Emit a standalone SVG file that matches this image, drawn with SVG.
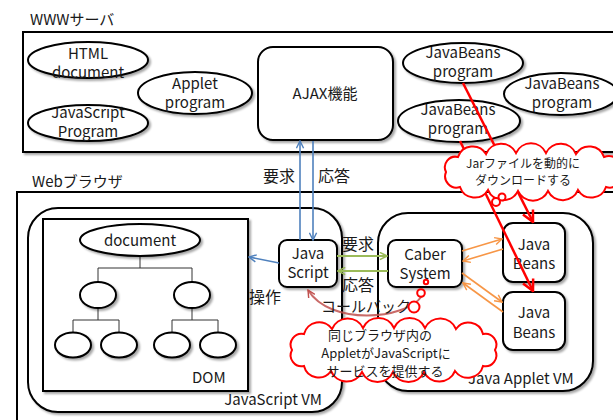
<svg xmlns="http://www.w3.org/2000/svg" width="613" height="420" viewBox="0 0 613 420">
<defs>
<filter id="sh" x="-10%" y="-10%" width="130%" height="130%">
<feDropShadow dx="2" dy="2" stdDeviation="1.2" flood-color="#000" flood-opacity="0.35"/>
</filter>
<marker id="ab" viewBox="0 0 10 10" refX="9" refY="5" markerWidth="9" markerHeight="9" markerUnits="userSpaceOnUse" orient="auto"><path d="M1,1 L9,5 L1,9" fill="none" stroke="#4F81BD" stroke-width="1.6"/></marker>
<marker id="ag" viewBox="0 0 10 10" refX="9" refY="5" markerWidth="9" markerHeight="9" markerUnits="userSpaceOnUse" orient="auto"><path d="M1,1 L9,5 L1,9" fill="none" stroke="#9BBB59" stroke-width="1.8"/></marker>
<marker id="ao" viewBox="0 0 10 10" refX="9" refY="5" markerWidth="9" markerHeight="9" markerUnits="userSpaceOnUse" orient="auto"><path d="M1,1 L9,5 L1,9" fill="none" stroke="#F79646" stroke-width="1.6"/></marker>
<marker id="ar" viewBox="0 0 10 10" refX="9" refY="5" markerWidth="14" markerHeight="14" markerUnits="userSpaceOnUse" orient="auto"><path d="M1,1 L9,5 L1,9" fill="none" stroke="#FF0000" stroke-width="1.8"/></marker>
<marker id="ad" viewBox="0 0 10 10" refX="9" refY="5" markerWidth="9" markerHeight="9" markerUnits="userSpaceOnUse" orient="auto"><path d="M1,1 L9,5 L1,9" fill="none" stroke="#C0504D" stroke-width="1.6"/></marker>
</defs>
<style>
text{font-family:"Noto Sans CJK JP","Noto Sans",sans-serif;fill:#1a1a1a;font-size:15px}
.c{text-anchor:middle}
.lb{font-size:16px}
.box{fill:#fff;stroke:#000;stroke-width:2}
.shp{fill:#fff;stroke:#000;stroke-width:2;filter:url(#sh)}
.tree{fill:none;stroke:#333;stroke-width:1}
.cloud{fill:#fff;stroke:#FF0000;stroke-width:2}
.bub{fill:#fff;stroke:#FF0000;stroke-width:2}
.sm{font-size:12px}
.md{font-size:13px}
</style>

<g id="www-server">
<rect class="box" x="23" y="32" width="610" height="120" filter="url(#sh)"/>
<text x="30" y="25" font-size="16">WWWサーバ</text>
</g>
<g id="html-document">
<ellipse class="shp" cx="88" cy="60" rx="60" ry="18"/>
<text class="c" x="88" y="59">HTML</text>
<text class="c" x="88" y="78">document</text>
</g>
<g id="javascript-program">
<ellipse class="shp" cx="88" cy="123" rx="60" ry="18"/>
<text class="c" x="88" y="118">JavaScript</text>
<text class="c" x="88" y="137">Program</text>
</g>
<g id="applet-program">
<ellipse class="shp" cx="195" cy="93" rx="57" ry="21"/>
<text class="c" x="195" y="89">Applet</text>
<text class="c" x="195" y="108">program</text>
</g>
<g id="ajax">
<rect class="shp" x="258" y="47" width="135" height="93" rx="15"/>
<text class="c" x="325" y="99">AJAX機能</text>
</g>
<g id="javabeans-program-1">
<ellipse class="shp" cx="463" cy="63" rx="60" ry="20"/>
<text class="c" x="463" y="58">JavaBeans</text>
<text class="c" x="463" y="77">program</text>
</g>
<g id="javabeans-program-2">
<ellipse class="shp" cx="561" cy="94" rx="57" ry="21"/>
<text class="c" x="562" y="89">JavaBeans</text>
<text class="c" x="562" y="108">program</text>
</g>
<g id="javabeans-program-3">
<ellipse class="shp" cx="459" cy="121" rx="61" ry="21"/>
<text class="c" x="458" y="115">JavaBeans</text>
<text class="c" x="458" y="134">program</text>
</g>

<g id="web-browser">
<rect class="box" x="17" y="192" width="620" height="240" filter="url(#sh)"/>
<text x="32" y="187" font-size="15.5">Webブラウザ</text>
</g>
<g id="javascript-vm">
<rect class="shp" x="28" y="208" width="314" height="204" rx="30"/>
<text x="322" y="405" text-anchor="end">JavaScript VM</text>
</g>
<g id="dom">
<rect class="shp" x="43" y="219" width="205" height="172"/>
<path class="tree" d="M140,256 V268 M98,268 H192 M98,268 V282 M192,268 V282 M98,308 V320 M73,320 H119 M73,320 V333 M119,320 V333 M192,308 V320 M172,320 H218 M172,320 V333 M218,320 V333"/>
<ellipse class="shp" cx="140" cy="240" rx="60" ry="16"/>
<text class="c" x="140" y="246">document</text>
<ellipse class="shp" cx="98" cy="295" rx="18" ry="13"/>
<ellipse class="shp" cx="192" cy="295" rx="18" ry="13"/>
<ellipse class="shp" cx="73" cy="345" rx="18" ry="12.5"/>
<ellipse class="shp" cx="119" cy="345" rx="18" ry="12.5"/>
<ellipse class="shp" cx="172" cy="345" rx="18" ry="12.5"/>
<ellipse class="shp" cx="218" cy="345" rx="18" ry="12.5"/>
<text x="192" y="383">DOM</text>
</g>
<g id="java-applet-vm">
<rect class="shp" x="378" y="213" width="215" height="178" rx="30"/>
<text x="468" y="384">Java Applet VM</text>
</g>
<g id="java-script">
<rect class="shp" x="279" y="240" width="58" height="47" rx="8"/>
<text class="c" x="308" y="259">Java</text>
<text class="c" x="308" y="278">Script</text>
</g>
<g id="caber-system">
<rect class="shp" x="388" y="240" width="74" height="47" rx="8"/>
<text class="c" x="425" y="260">Caber</text>
<text class="c" x="425" y="279">System</text>
</g>
<g id="java-beans-1">
<rect class="shp" x="503" y="223" width="62" height="59" rx="10"/>
<text class="c" x="534" y="250">Java</text>
<text class="c" x="534" y="269">Beans</text>
</g>
<g id="java-beans-2">
<rect class="shp" x="503" y="292" width="62" height="58" rx="10"/>
<text class="c" x="534" y="318">Java</text>
<text class="c" x="534" y="338">Beans</text>
</g>

<g id="connectors">
<line x1="300" y1="240" x2="300" y2="141" stroke="#4F81BD" stroke-width="1.6" marker-end="url(#ab)"/>
<line x1="313" y1="141" x2="313" y2="240" stroke="#4F81BD" stroke-width="1.6" marker-end="url(#ab)"/>
<line x1="279" y1="263" x2="249" y2="257" stroke="#4F81BD" stroke-width="1.6" marker-end="url(#ab)"/>
<line x1="337" y1="256" x2="387" y2="256" stroke="#9BBB59" stroke-width="2" marker-end="url(#ag)"/>
<line x1="388" y1="271" x2="338" y2="271" stroke="#9BBB59" stroke-width="2" marker-end="url(#ag)"/>
<line x1="462" y1="251" x2="502" y2="239" stroke="#F79646" stroke-width="1.6" marker-end="url(#ao)"/>
<line x1="503" y1="249" x2="463" y2="261" stroke="#F79646" stroke-width="1.6" marker-end="url(#ao)"/>
<line x1="462" y1="273" x2="502" y2="302" stroke="#F79646" stroke-width="1.6" marker-end="url(#ao)"/>
<line x1="503" y1="312" x2="463" y2="283" stroke="#F79646" stroke-width="1.6" marker-end="url(#ao)"/>
<path d="M422,296 C405,320 330,326 308,290" fill="none" stroke="#C0504D" stroke-opacity="0.85" stroke-width="2" marker-end="url(#ad)"/>
<line x1="463" y1="83" x2="533" y2="222" stroke="#FF0000" stroke-width="2.5" marker-end="url(#ar)"/>
<line x1="460" y1="141" x2="533" y2="291" stroke="#FF0000" stroke-width="2.5" marker-end="url(#ar)"/>
<text class="lb" x="263" y="182">要求</text>
<text class="lb" x="318" y="182">応答</text>
<text class="lb" x="342" y="250">要求</text>
<text class="lb" x="342" y="291">応答</text>
<text class="lb" x="249" y="303">操作</text>
<text x="321" y="312">コールバック</text>
</g>

<g id="cloud-jar">
<path class="cloud" d="M446,172 A10.6,10.6 0 0 1 458,157 A15.5,15.5 0 0 1 486,154 A16.5,16.5 0 0 1 516,153 A16.5,16.5 0 0 1 546,153 A16.5,16.5 0 0 1 576,154 A15.5,15.5 0 0 1 604,157 A12,12 0 0 1 620,172 A11.3,11.3 0 0 1 606,187 A15.5,15.5 0 0 1 578,190 A16.5,16.5 0 0 1 548,191 A16.5,16.5 0 0 1 518,191 A16.5,16.5 0 0 1 488,190 A15.5,15.5 0 0 1 460,187 A11.3,11.3 0 0 1 446,172 Z"/>
<circle class="bub" cx="496" cy="202" r="4"/>
<circle class="bub" cx="502" cy="197" r="3.5"/>
<text class="c sm" x="523" y="168">Jarファイルを動的に</text>
<text class="c sm" x="523" y="185">ダウンロードする</text>
</g>
<g id="cloud-service">
<circle class="bub" cx="426" cy="282" r="2.2"/>
<circle class="bub" cx="421" cy="293" r="3.8"/>
<circle class="bub" cx="414" cy="307" r="5.5"/>
<path class="cloud" d="M292,350 A11,11 0 0 1 304,334 A15.6,15.6 0 0 1 332,329 A17,17 0 0 1 363,328 A17,17 0 0 1 394,328 A17,17 0 0 1 425,328 A17,17 0 0 1 456,329 A15.1,15.1 0 0 1 483,334 A11,11 0 0 1 495,350 A11,11 0 0 1 483,366 A15.6,15.6 0 0 1 455,371 A17,17 0 0 1 424,372 A17,17 0 0 1 393,372 A17,17 0 0 1 362,372 A17,17 0 0 1 331,371 A15.1,15.1 0 0 1 304,366 A11,11 0 0 1 292,350 Z"/>
<text class="c md" x="380" y="340">同じブラウザ内の</text>
<text class="c md" x="386" y="358">AppletがJavaScriptに</text>
<text class="c md" x="385" y="376">サービスを提供する</text>
</g>
</svg>
